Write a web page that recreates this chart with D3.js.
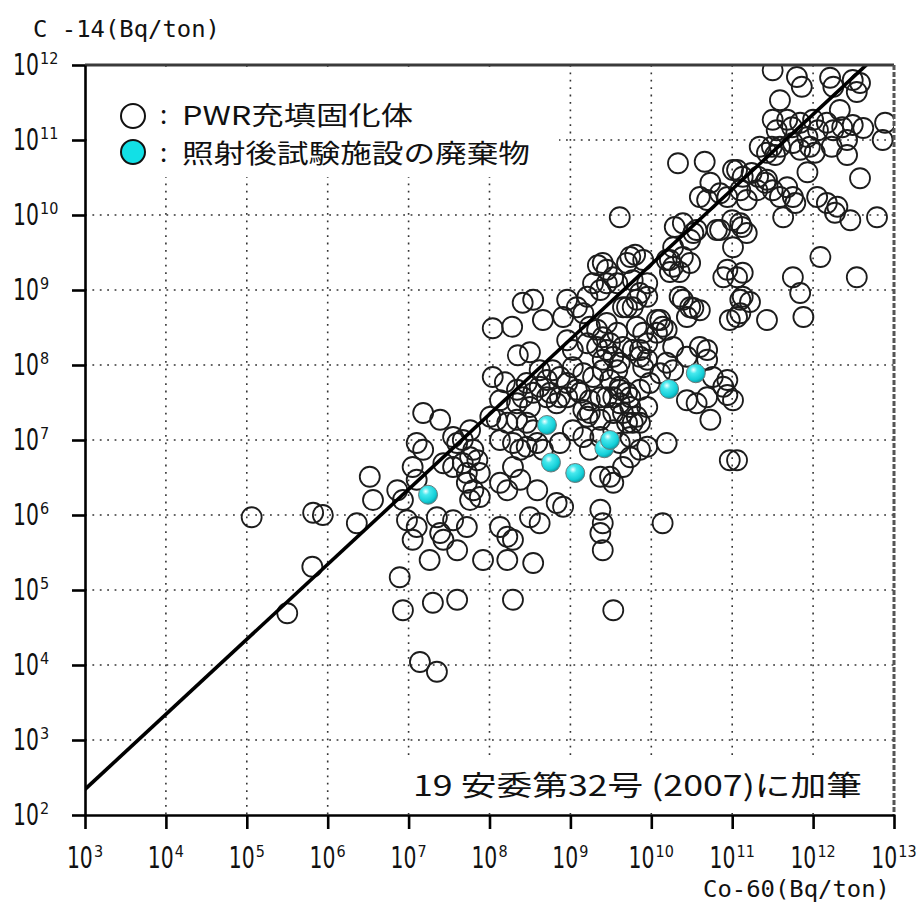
<!DOCTYPE html>
<html>
<head>
<meta charset="utf-8">
<script src="https://cdn.jsdelivr.net/npm/d3@7"></script>
<style>
  body { margin: 0; background: #fff; }
  svg { display: block; }
</style>
</head>
<body>
<div id="chart"></div>
<script>
// decades shown on each axis (exponents of 10)
const xTickExps = d3.range(3, 14);
const yTickExps = d3.range(2, 13);

// PWR packages: [log10 Co-60, log10 C-14] (Bq/ton)
const pwrLog = [
  [11.50,11.93],[11.80,11.84],[11.86,11.71],[12.21,11.83],[12.25,11.71],[12.49,11.80],[12.58,11.76],[12.54,11.64],[11.59,11.53],[12.33,11.40],
  [11.50,11.27],[11.55,11.13],[11.68,11.27],[11.84,11.23],[12.00,11.27],[11.93,11.04],[12.17,11.23],[12.25,11.13],[12.49,11.20],[12.62,11.16],
  [12.89,11.23],[12.86,11.00],[11.74,11.17],[12.06,11.13],[12.36,11.17],
  [11.34,10.91],[11.43,10.83],[11.59,10.91],[11.75,10.96],[11.84,10.87],[11.96,10.91],[12.42,11.00],[12.42,10.80],[11.49,10.91],[11.53,10.80],
  [12.02,10.83],[12.23,10.91],[11.93,10.57],[12.58,10.49],
  [10.33,10.69],[10.66,10.71],[10.73,10.43],[11.06,10.60],[11.13,10.51],[11.01,10.60],[11.24,10.56],[11.32,10.51],[11.41,10.43],
  [10.60,10.24],[10.69,10.20],[10.85,10.29],[10.94,10.24],[11.10,10.33],[11.18,10.20],[11.31,10.33],
  [11.43,10.47],[11.50,10.33],[11.59,10.24],[11.68,10.37],[11.75,10.24],[11.78,10.16],
  [12.05,10.24],[12.17,10.16],[12.30,10.11],[12.46,9.93],[12.27,10.03],[12.79,9.97],
  [9.61,9.97],[10.39,9.89],[10.56,9.80],[10.48,9.67],[10.85,9.80],[11.10,9.89],[11.18,9.76],[11.63,9.97],[11.00,9.93],[11.12,9.84],
  [10.29,9.84],[10.81,9.80],[10.52,9.76],[10.27,9.57],[10.23,9.40],
  [12.09,9.44],[12.54,9.17],[11.75,9.17],[11.84,8.96],[11.88,8.64],[10.94,9.27],[11.13,9.23],[11.13,8.91],[11.06,8.64],[10.97,8.60],
  [11.43,8.60],[11.22,8.84],[10.35,8.91],[10.48,8.77],[10.60,8.73],[10.44,8.64],
  [9.45,9.27],[9.58,9.09],[9.74,9.44],[9.77,9.13],[9.86,8.96],[9.65,8.77],[9.77,8.77],[10.07,8.60],[10.14,8.51],
  [9.80,9.47],[9.90,9.40],[9.70,9.36],[10.19,9.40],[10.27,9.31],[10.39,9.44],[10.48,9.36],[10.35,9.24],[10.23,9.24],
  [11.01,9.57],[10.89,9.17],[11.06,9.17],
  [9.40,9.36],[9.53,9.17],[9.45,9.09],[9.95,9.09],[9.82,8.87],[9.70,8.77],[9.95,8.91],
  [10.39,8.87],[10.52,8.76],[11.10,8.87],[11.10,8.69],
  [10.11,8.60],[10.19,8.47],[10.07,8.43],[9.82,8.51],[9.90,8.43],[9.95,8.29],
  [9.45,8.56],[9.58,8.43],[9.49,8.29],[9.65,8.24],[9.77,8.20],[9.86,8.11],
  [10.27,8.24],[10.19,8.03],[10.44,8.11],[10.60,8.24],[10.69,8.20],[10.69,8.07],
  [10.76,7.84],[10.94,7.80],[10.89,7.71],[11.01,7.53],
  [10.27,7.93],[10.11,7.89],[9.90,7.97],[9.98,7.76],
  [9.58,7.93],[9.49,7.80],[9.61,7.71],[9.70,7.63],[9.45,7.57],
  [10.69,7.57],[10.94,7.60],[9.61,7.49],[9.74,7.44],
  [10.44,7.53],[10.56,7.49],[10.73,7.27],[10.97,6.73],[11.06,6.73],[10.19,6.96],
  [9.34,9.33],[9.28,9.09],[9.37,9.00],[9.21,8.91],[8.41,8.83],[8.54,8.87],[8.66,8.60],[8.04,8.49],[8.28,8.51],
  [8.96,8.87],[8.91,8.64],[9.08,8.77],[9.16,8.69],[9.24,8.51],
  [9.33,8.47],[9.40,8.37],[9.21,8.29],[9.33,8.24],[9.45,8.20],[9.40,8.07],
  [8.35,8.13],[8.50,8.17],[8.96,8.33],[9.03,8.20],
  [8.04,7.84],[8.19,7.77],[8.62,7.93],[8.71,7.80],[8.78,7.93],[8.87,7.84],[8.96,7.76],[9.03,7.97],[9.16,7.89],[9.28,7.84],[9.40,7.93],
  [8.46,7.76],[8.54,7.63],[8.62,7.71],[8.71,7.57],
  [8.83,7.49],[8.96,7.57],[9.12,7.63],[9.24,7.53],[9.37,7.57],
  [8.13,7.53],[8.34,7.49],[8.41,7.57],[8.50,7.44],
  [9.53,8.11],[9.61,8.03],[9.86,8.20],[9.95,8.07],
  [8.34,7.67],[8.75,7.63],[8.87,7.57],[9.08,7.67],[9.53,7.57],[9.61,7.67],[9.74,7.57],[9.86,7.67],
  [9.16,7.40],[9.21,7.31],[9.24,7.36],[9.37,7.27],[9.53,7.36],[9.65,7.36],[9.70,7.23],[9.82,7.31],[9.95,7.44],[9.86,7.23],
  [8.01,7.31],[8.09,7.27],[8.22,7.23],[8.34,7.27],[8.46,7.23],[8.54,7.13],
  [8.13,7.00],[8.29,6.96],[8.38,6.87],[8.46,6.91],[8.59,6.96],[8.66,6.87],[8.87,6.96],
  [9.03,7.13],[9.16,7.04],[9.24,6.87],[9.37,7.04],[9.53,7.13],[9.61,6.96],[9.74,7.04],
  [9.86,6.87],[9.74,6.77],[9.65,6.64],[9.77,7.23],[9.95,6.91],
  [7.18,7.36],[7.39,7.27],[7.10,6.96],[7.18,6.87],
  [7.55,7.04],[7.60,6.96],[7.67,7.00],[7.76,7.13],[7.80,6.87],
  [7.43,6.69],[7.55,6.64],[7.67,6.69],[7.72,6.56],[7.76,6.77],[7.85,6.73],[7.88,6.56],
  [7.72,6.43],[7.80,6.33],[7.88,6.24],[7.76,6.20],
  [8.13,6.43],[8.22,6.33],[8.38,6.47],[8.29,6.64],[8.59,6.33],
  [6.52,6.51],[6.56,6.20],[6.86,6.33],[6.93,6.20],[7.05,6.64],[7.10,6.47],
  [8.83,6.16],[8.91,6.11],[8.50,5.97],[8.62,5.89],
  [9.37,6.51],[9.49,6.51],[9.53,6.43],[10.14,5.89],
  [5.82,6.03],[6.36,5.89],[6.98,5.93],[7.10,5.84],[7.05,5.67],[7.35,5.97],[7.39,5.76],[7.43,5.67],[7.72,5.84],[7.60,5.53],[7.26,5.40],[7.55,5.93],
  [8.13,5.84],[8.22,5.71],[8.29,5.67],[7.92,5.40],[8.22,5.40],[8.54,5.36],
  [9.37,6.07],[9.40,5.89],[9.37,5.76],[9.40,5.53],
  [5.06,5.97],[5.94,6.00],[5.81,5.31],[5.50,4.69],
  [6.89,5.17],[6.93,4.73],[7.30,4.83],[7.60,4.87],[8.29,4.87],[9.53,4.73],
  [7.14,4.04],[7.35,3.91],[8.30,2.37]
];

// post-irradiation examination facility waste: [log10 Co-60, log10 C-14]
const pieLog = [
  [7.24,6.27],[8.71,7.20],[8.76,6.70],[9.06,6.56],[9.42,6.89],[9.49,7.00],[10.22,7.68],[10.55,7.89]
];

// reference line C-14 = 0.22 x Co-60
const fitCo60 = [1e3, 1e13];
const fitC14 = [2.2e2, 2.2e12];

const legendLabels = ["PWR充填固化体", "照射後試験施設の廃棄物"];
const xTitle = "Co-60(Bq/ton)";
const yTitle = "C -14(Bq/ton)";
const noteText = "19 安委第32号 (2007)に加筆";

const W = 921, H = 904;
const L = 85, R = 894, T = 65, B = 815;

const svg = d3.select("#chart").append("svg")
  .attr("width", W)
  .attr("height", H);

const x = d3.scaleLog().domain([1e3, 1e13]).range([L, R]);
const y = d3.scaleLog().domain([1e2, 1e12]).range([B, T]);

const defs = svg.append("defs");
defs.append("clipPath").attr("id", "plot-clip")
  .append("rect").attr("x", L).attr("y", T).attr("width", R - L).attr("height", B - T);

let grad = defs.append("radialGradient").attr("id", "ball")
  .attr("cx", "38%").attr("cy", "32%").attr("r", "70%");
grad.append("stop").attr("offset", "0%").attr("stop-color", "#f2ffff");
grad.append("stop").attr("offset", "28%").attr("stop-color", "#47e9ee");
grad.append("stop").attr("offset", "75%").attr("stop-color", "#14cfd8");
grad.append("stop").attr("offset", "100%").attr("stop-color", "#0a9aa4");

// dotted grid
const grid = svg.append("g").attr("class", "grid")
  .attr("stroke", "#333").attr("stroke-width", 1.6).attr("stroke-dasharray", "1.8,5.6");

grid.selectAll("line.gx")
  .data(xTickExps.slice(1, -1))
  .enter().append("line")
  .attr("class", "gx")
  .attr("x1", d => x(10 ** d)).attr("x2", d => x(10 ** d))
  .attr("y1", T).attr("y2", B);

grid.selectAll("line.gy")
  .data(yTickExps.slice(1, -1))
  .enter().append("line")
  .attr("class", "gy")
  .attr("x1", L).attr("x2", R)
  .attr("y1", d => y(10 ** d)).attr("y2", d => y(10 ** d));

// white patch behind the legend
svg.append("rect")
  .attr("x", L + 2).attr("y", T + 2).attr("width", 472).attr("height", 110)
  .attr("fill", "#fff");

const plot = svg.append("g").attr("clip-path", "url(#plot-clip)");

plot.selectAll("circle.pwr")
  .data(pwrLog)
  .enter().append("circle")
  .attr("class", "pwr")
  .attr("cx", d => x(10 ** d[0]))
  .attr("cy", d => y(10 ** d[1]))
  .attr("r", 10)
  .attr("fill", "none")
  .attr("stroke", "#1c1c1c")
  .attr("stroke-width", 1.8);

const line = d3.line()
  .x(d => x(d[0]))
  .y(d => y(d[1]));

plot.append("path")
  .datum(fitCo60.map((v, i) => [v, fitC14[i]]))
  .attr("d", line)
  .attr("fill", "none")
  .attr("stroke", "#000")
  .attr("stroke-width", 3.6);

plot.selectAll("circle.pie")
  .data(pieLog)
  .enter().append("circle")
  .attr("class", "pie")
  .attr("cx", d => x(10 ** d[0]))
  .attr("cy", d => y(10 ** d[1]))
  .attr("r", 9.5)
  .attr("fill", "url(#ball)")
  .attr("stroke", "#6b7b7b")
  .attr("stroke-width", 1);

// frame: top solid, right dashed
svg.append("line")
  .attr("x1", L).attr("x2", R).attr("y1", T).attr("y2", T)
  .attr("stroke", "#3a3a3a").attr("stroke-width", 3);
svg.append("line")
  .attr("x1", R).attr("x2", R).attr("y1", T).attr("y2", B)
  .attr("stroke", "#555").attr("stroke-width", 3).attr("stroke-dasharray", "5,2");

// axes (ticks only, labels drawn by hand for the superscripts)
const yAxis = svg.append("g")
  .attr("transform", `translate(${L},0)`)
  .call(d3.axisLeft(y).tickValues(yTickExps.map(e => 10 ** e)).tickFormat("").tickSize(13).tickSizeOuter(0));
const xAxis = svg.append("g")
  .attr("transform", `translate(0,${B})`)
  .call(d3.axisBottom(x).tickValues(xTickExps.map(e => 10 ** e)).tickFormat("").tickSize(14).tickSizeOuter(0));
[xAxis, yAxis].forEach(a => {
  a.selectAll("path, line").attr("stroke", "#000").attr("stroke-width", 2.6);
});

function powerLabel(g, e, x0, yBase) {
  // "10" condensed, exponent raised after it
  g.append("text")
    .attr("transform", `translate(${x0},${yBase}) scale(0.68,1)`)
    .attr("font-family", "DejaVu Sans, sans-serif")
    .attr("font-size", 30)
    .attr("fill", "#111")
    .text("10");
  g.append("text")
    .attr("transform", `translate(${x0 + 27},${yBase - 11}) scale(0.9,1)`)
    .attr("font-family", "DejaVu Sans, sans-serif")
    .attr("font-size", 16)
    .attr("fill", "#111")
    .text(e);
}

const yLabels = svg.append("g");
yTickExps.forEach(e => powerLabel(yLabels, e, 13, y(10 ** e) + 10));

const xLabels = svg.append("g");
xTickExps.forEach(e => {
  let w = 27 + 9.2 * String(e).length;
  powerLabel(xLabels, e, x(10 ** e) - w / 2, 868);
});

// axis titles
svg.append("text")
  .attr("x", 33).attr("y", 37)
  .attr("font-family", "DejaVu Sans Mono, monospace")
  .attr("font-size", 23)
  .attr("textLength", 187).attr("lengthAdjust", "spacingAndGlyphs")
  .attr("fill", "#111")
  .text(yTitle);

svg.append("text")
  .attr("x", 703).attr("y", 897)
  .attr("font-family", "DejaVu Sans Mono, monospace")
  .attr("font-size", 23)
  .attr("textLength", 187).attr("lengthAdjust", "spacingAndGlyphs")
  .attr("fill", "#111")
  .text(xTitle);

// legend: marker, colon and label per entry
const legend = svg.append("g");
const legendRows = [
  { label: legendLabels[0], cy: 116, base: 125, fill: "#fff", len: 231 },
  { label: legendLabels[1], cy: 152, base: 163, fill: "#12e0e6", len: 348 }
];
legendRows.forEach(r => {
  legend.append("circle")
    .attr("cx", 133).attr("cy", r.cy).attr("r", 12)
    .attr("fill", r.fill).attr("stroke", "#111").attr("stroke-width", 2);
  legend.append("text")
    .attr("x", 160).attr("y", r.base - 1)
    .attr("font-family", "Noto Sans CJK JP, sans-serif")
    .attr("font-size", 26)
    .attr("fill", "#111")
    .text(":");
  legend.append("text")
    .attr("x", 182).attr("y", r.base)
    .attr("font-family", "Noto Sans CJK JP, sans-serif")
    .attr("font-size", 26)
    .attr("textLength", r.len).attr("lengthAdjust", "spacingAndGlyphs")
    .attr("fill", "#111")
    .text(r.label);
});

// source note in a white box
svg.append("rect")
  .attr("x", 393).attr("y", 757).attr("width", R - 393 - 2).attr("height", B - 757 - 2)
  .attr("fill", "#fff");
svg.append("text")
  .attr("x", 413).attr("y", 796)
  .attr("font-family", "Noto Sans CJK JP, sans-serif")
  .attr("font-size", 28)
  .attr("textLength", 449).attr("lengthAdjust", "spacingAndGlyphs")
  .attr("fill", "#111")
  .text(noteText);
</script>
</body>
</html>
